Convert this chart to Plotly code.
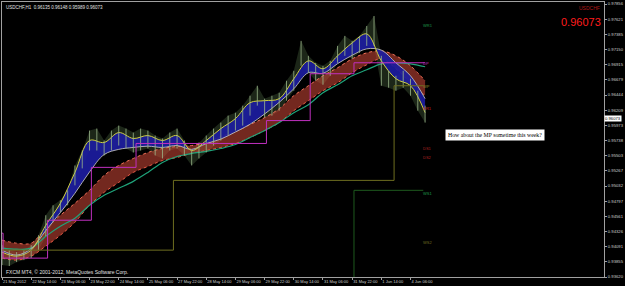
import plotly.graph_objects as go

# ---------------- data ----------------
# bar index (H1 bars), price sampled every 4 bars
bar4 = list(range(0, 233, 4))
high4 = [0.94114, 0.94037, 0.94006, 0.94037, 0.94114, 0.94269, 0.94578, 0.94733, 0.94810, 0.94965,
         0.95351, 0.95583, 0.95892, 0.95923, 0.95738, 0.95892, 0.95969, 0.95923, 0.95861, 0.95923,
         0.95892, 0.95815, 0.95769, 0.95861, 0.95923, 0.95738, 0.95583, 0.95707, 0.95815, 0.95923,
         0.96016, 0.96124, 0.96170, 0.96279, 0.96433, 0.96588, 0.96387, 0.96433, 0.96480, 0.96665,
         0.96820, 0.97284, 0.97052, 0.96943, 0.96897, 0.96974, 0.97206, 0.97361, 0.97284, 0.97361,
         0.97515, 0.97670, 0.97052, 0.96820, 0.96742, 0.96820, 0.96696, 0.96511, 0.96279]
low4 = [0.93805, 0.93790, 0.93851, 0.93882, 0.93913, 0.94037, 0.94253, 0.94470, 0.94624, 0.94733,
        0.95042, 0.95305, 0.95583, 0.95583, 0.95506, 0.95583, 0.95660, 0.95614, 0.95552, 0.95583,
        0.95614, 0.95506, 0.95459, 0.95583, 0.95614, 0.95506, 0.95351, 0.95459, 0.95552, 0.95660,
        0.95738, 0.95815, 0.95892, 0.95969, 0.96124, 0.96279, 0.96093, 0.96124, 0.96201, 0.96356,
        0.96511, 0.96897, 0.96789, 0.96665, 0.96603, 0.96742, 0.96943, 0.97052, 0.97005, 0.97098,
        0.97206, 0.97206, 0.96588, 0.96557, 0.96511, 0.96557, 0.96433, 0.96201, 0.96016]

# moving averages sampled every 8 bars
bar8 = list(range(0, 233, 8))
ma_fast = [0.94006, 0.93944, 0.94037, 0.94423, 0.94764, 0.95243, 0.95738, 0.95707, 0.95861, 0.95769,
           0.95815, 0.95738, 0.95815, 0.95583, 0.95738, 0.95923, 0.96078, 0.96325, 0.96356, 0.96387,
           0.96696, 0.96974, 0.96851, 0.97052, 0.97253, 0.97392, 0.96974, 0.96696, 0.96588, 0.96170]
ma_mid = [0.94037, 0.93960, 0.94060, 0.94340, 0.94620, 0.94920, 0.95250, 0.95520, 0.95600, 0.95630,
          0.95650, 0.95630, 0.95660, 0.95600, 0.95690, 0.95760, 0.95870, 0.95990, 0.96150, 0.96330,
          0.96540, 0.96790, 0.96780, 0.96930, 0.97060, 0.97160, 0.97140, 0.96943, 0.96742, 0.96387]
ribbon_top = [0.94192, 0.94145, 0.94145, 0.94377, 0.94578, 0.94764, 0.94965, 0.95196, 0.95351, 0.95459,
              0.95552, 0.95614, 0.95645, 0.95660, 0.95707, 0.95799, 0.95877, 0.95985, 0.96093, 0.96232,
              0.96433, 0.96588, 0.96742, 0.96866, 0.97005, 0.97098, 0.97129, 0.97052, 0.96897, 0.96665]
ribbon_bot = [0.93913, 0.93882, 0.93944, 0.94099, 0.94269, 0.94470, 0.94733, 0.94934, 0.95088, 0.95243,
              0.95336, 0.95428, 0.95475, 0.95537, 0.95583, 0.95629, 0.95691, 0.95784, 0.95892, 0.96016,
              0.96201, 0.96356, 0.96511, 0.96634, 0.96789, 0.96913, 0.97005, 0.96851, 0.96634, 0.96433]
ma_slow = [0.94068, 0.94052, 0.94068, 0.94253, 0.94408, 0.94532, 0.94733, 0.94887, 0.94996, 0.95104,
           0.95243, 0.95397, 0.95490, 0.95537, 0.95568, 0.95614, 0.95676, 0.95784, 0.95892, 0.96016,
           0.96170, 0.96294, 0.96480, 0.96603, 0.96742, 0.96835, 0.96928, 0.96943, 0.96928, 0.96882]

# daily pivot steps (magenta)
daily_bar = [0, 0.6, 25, 49, 73.5, 145, 169, 193, 232]
daily_lvl = [0.94300, 0.93913, 0.94501, 0.95321, 0.95692, 0.96047, 0.96774, 0.96944, 0.96944]
# weekly pivot steps (olive)
weekly_bar = [0, 94, 215, 231]
weekly_lvl = [0.94037, 0.95119, 0.96588, 0.96588]
# weekly support (dark green)
wsup_bar = [193, 193, 231]
wsup_lvl = [0.93620, 0.94965, 0.94965]

# pivot level labels at right end of the price data
lvl_labels = ["WR1", "DP", "WP", "DR1", "DS1", "DS2", "WS1", "WS2"]
lvl_values = [0.97530, 0.96930, 0.96580, 0.96240, 0.95620, 0.95480, 0.94920, 0.94150]
lvl_colors = ["#1f9a4a", "#c030c0", "#8a8a2a", "#d02020", "#b02020", "#b02020", "#1f9a4a", "#6e6e20"]

# axis ticks
xtick_bars = [0, 16, 32, 48, 64, 80, 96, 112, 128, 144, 160, 176, 192, 208, 224]
xtick_text = ["21 May 2012", "22 May 14:00", "23 May 06:00", "23 May 22:00", "24 May 14:00",
              "25 May 06:00", "27 May 22:00", "28 May 14:00", "29 May 06:00", "29 May 22:00",
              "30 May 14:00", "31 May 06:00", "31 May 22:00", "1 Jun 14:00", "4 Jun 06:00"]
ytick_vals = [0.93620, 0.93855, 0.94091, 0.94326, 0.94561, 0.94797, 0.95032, 0.95267, 0.95503,
              0.95738, 0.95973, 0.96209, 0.96444, 0.96679, 0.96915, 0.97150, 0.97385, 0.97621, 0.97856]
last_price = 0.96073
ohlc_text = "USDCHF,H1  0.96135 0.96148 0.95989 0.96073"

FONT = "Liberation Sans"

fig = go.Figure()

# price range band (below ribbons)
fig.add_trace(go.Scatter(x=bar4, y=low4, mode="lines", line=dict(width=0, color="rgba(0,0,0,0)")))
fig.add_trace(go.Scatter(x=bar4, y=high4, mode="lines", fill="tonexty",
                         fillcolor="rgba(80,110,70,0.35)", line=dict(width=0, color="rgba(0,0,0,0)")))
# red ribbon
fig.add_trace(go.Scatter(x=bar8, y=ribbon_bot, mode="lines",
                         line=dict(color="#e85a44", width=1, dash="dot", shape="spline")))
fig.add_trace(go.Scatter(x=bar8, y=ribbon_top, mode="lines", fill="tonexty",
                         fillcolor="rgba(210,72,56,0.55)",
                         line=dict(color="#f07058", width=1, dash="dot", shape="spline")))
# slow green MA
fig.add_trace(go.Scatter(x=bar8, y=ma_slow, mode="lines",
                         line=dict(color="#1fa37a", width=1.2, shape="spline")))
# blue ribbon
fig.add_trace(go.Scatter(x=bar8, y=ma_mid, mode="lines",
                         line=dict(color="#bcbcbc", width=0.9, shape="spline")))
fig.add_trace(go.Scatter(x=bar8, y=ma_fast, mode="lines", fill="tonexty",
                         fillcolor="rgba(28,28,160,0.92)",
                         line=dict(color="#d0d040", width=1, shape="spline")))
# price bar spikes
fig.add_trace(go.Scatter(x=bar4, y=low4, mode="markers", marker=dict(size=0.1, color="rgba(0,0,0,0)"),
                         error_y=dict(type="data", symmetric=False,
                                      array=[h - l for h, l in zip(high4, low4)],
                                      arrayminus=[0] * len(low4),
                                      color="#9cb88c", thickness=0.8, width=0)))
# pivot steps
fig.add_trace(go.Scatter(x=daily_bar, y=daily_lvl, mode="lines",
                         line=dict(color="#c030c0", width=1, shape="hv")))
fig.add_trace(go.Scatter(x=weekly_bar, y=weekly_lvl, mode="lines",
                         line=dict(color="#6e6e20", width=1, shape="hv")))
fig.add_trace(go.Scatter(x=wsup_bar, y=wsup_lvl, mode="lines",
                         line=dict(color="#1e5a1e", width=1)))

ann = []
for t, v, c in zip(lvl_labels, lvl_values, lvl_colors):
    ann.append(dict(xref="x", yref="y", x=230, y=v, xanchor="left", yanchor="middle", text=t,
                    showarrow=False, font=dict(family=FONT, size=4, color=c)))
ann.append(dict(xref="paper", yref="paper", x=0.003, y=0.995, xanchor="left", yanchor="top",
                text=ohlc_text, showarrow=False, font=dict(family=FONT, size=4.5, color="#e0e0e0")))
ann.append(dict(xref="paper", yref="paper", x=0.997, y=0.995, xanchor="right", yanchor="top",
                text="USDCHF", showarrow=False, font=dict(family=FONT, size=5, color="#b01818")))
ann.append(dict(xref="paper", yref="paper", x=0.998, y=0.955, xanchor="right", yanchor="top",
                text=f"{last_price:.5f}", showarrow=False, font=dict(family=FONT, size=11, color="#ff1c1c")))
ann.append(dict(xref="paper", yref="paper", x=0.003, y=0.0, xanchor="left", yanchor="bottom",
                text="FXCM MT4, © 2001-2012, MetaQuotes Software Corp.", showarrow=False,
                font=dict(family=FONT, size=5, color="#e0e0e0")))
ann.append(dict(xref="paper", yref="y", x=1.0, y=last_price, xanchor="left", yanchor="middle",
                text=f"{last_price:.5f}", showarrow=False, bgcolor="#ffffff", borderpad=0,
                font=dict(family=FONT, size=4.2, color="#000000")))
ann.append(dict(xref="x", yref="y", x=243, y=0.95830, xanchor="left", yanchor="middle",
                text="How about the MP sometime this week?", showarrow=False,
                bgcolor="#ffffff", borderpad=2,
                font=dict(family="Liberation Serif", size=5.8, color="#000000")))

fig.update_layout(
    width=625, height=286,
    margin=dict(l=2, r=17, t=1, b=9),
    paper_bgcolor="#000000", plot_bgcolor="#000000",
    showlegend=False,
    annotations=ann,
    xaxis=dict(range=[0, 330.1], tickvals=xtick_bars, ticktext=xtick_text, tickangle=0,
               ticklabelposition="outside right", ticks="outside", ticklen=2, tickcolor="#a0a0a0",
               tickfont=dict(family=FONT, size=4, color="#d0d0d0"),
               showgrid=False, zeroline=False, showline=True, linecolor="#a0a0a0", linewidth=1,
               mirror=True),
    yaxis=dict(range=[0.93620, 0.97887], side="right", tickvals=ytick_vals,
               ticktext=[f"{v:.5f}" for v in ytick_vals], ticks="outside", ticklen=2,
               tickcolor="#a0a0a0", tickfont=dict(family=FONT, size=4.2, color="#d0d0d0"),
               showgrid=False, zeroline=False, showline=True, linecolor="#a0a0a0", linewidth=1,
               mirror=True),
)

fig.write_html("out.html")
